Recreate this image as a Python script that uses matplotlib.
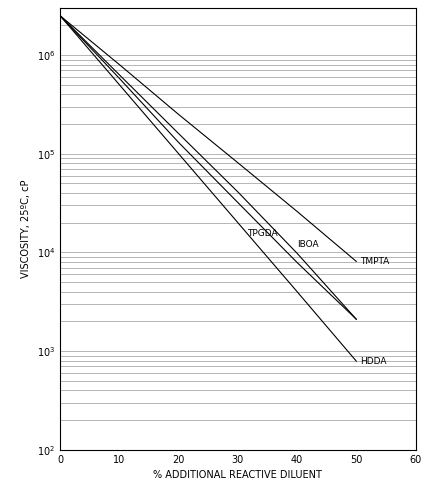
import numpy as np
import matplotlib.pyplot as plt

# % additional reactive diluent vs viscosity (cP)
x = [0, 10, 20, 30, 40, 50]
tmpta = [2.5e6, 8.0e5, 2.5e5, 8.1e4, 2.6e4, 8.1e3]
iboa = [2.5e6, 6.3e5, 1.6e5, 4.1e4, 9.8e3, 2.1e3]
tpgda = [2.5e6, 5.8e5, 1.3e5, 3.2e4, 7.9e3, 2.1e3]
hdda = [2.5e6, 5.0e5, 1.0e5, 2.0e4, 4.0e3, 7.9e2]

fig = plt.figure(figsize=(4.36, 4.98), dpi=100)
ax = fig.add_axes([0.138, 0.097, 0.815, 0.887])

for s in [tmpta, iboa, tpgda, hdda]:
    ax.plot(x, s, color="black", lw=0.8)

ax.text(50.6, tmpta[-1], "TMPTA", fontsize=6.5, va="center")
ax.text(50.6, hdda[-1], "HDDA", fontsize=6.5, va="center")
ax.text(40, 1.2e4, "IBOA", fontsize=6.5, va="center")
ax.text(31.5, 1.55e4, "TPGDA", fontsize=6.5, va="center")

ax.set_yscale("log")
ax.set_xlim(0, 60)
ax.set_ylim(1e2, 3e6)
ax.set_xticks(range(0, 61, 10))
ax.grid(True, which="both", axis="y", color="#aaaaaa", lw=0.6)
ax.tick_params(labelsize=7, length=0)
ax.tick_params(which="minor", length=0)
ax.set_xlabel("% ADDITIONAL REACTIVE DILUENT", fontsize=7)
ax.set_ylabel("VISCOSITY, 25ºC, cP", fontsize=7)
for sp in ax.spines.values():
    sp.set_linewidth(0.8)

fig.savefig("out.png")
